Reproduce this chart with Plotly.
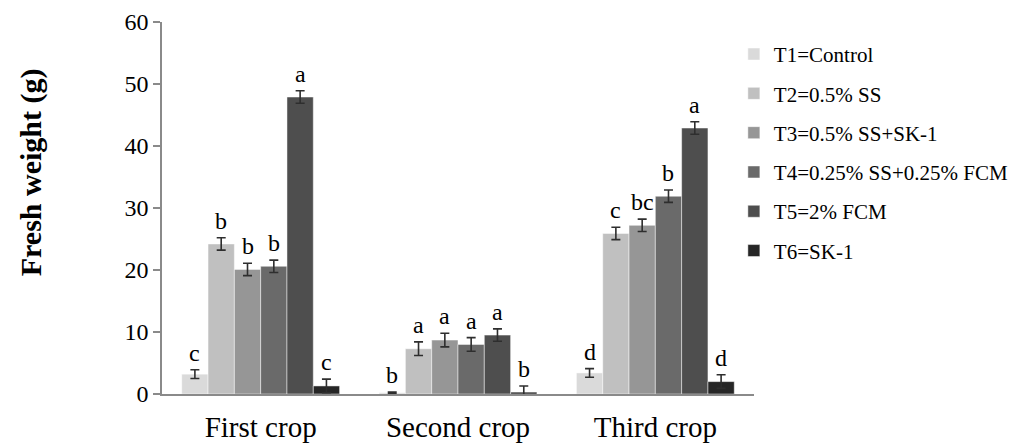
import plotly.graph_objects as go

categories = ["First crop", "Second crop", "Third crop"]
treatments = ["T1=Control", "T2=0.5% SS", "T3=0.5% SS+SK-1",
              "T4=0.25% SS+0.25% FCM", "T5=2% FCM", "T6=SK-1"]
colors = ["#dadada", "#c0c0c0", "#969696", "#6a6a6a", "#4e4e4e", "#262626"]

t1 = [3.2, 0.2, 3.4]
t2 = [24.2, 7.3, 25.9]
t3 = [20.1, 8.7, 27.2]
t4 = [20.6, 8.0, 31.9]
t5 = [47.9, 9.5, 42.9]
t6 = [1.3, 0.3, 2.0]

e1 = [0.7, 0.1, 0.7]
e2 = [1.0, 1.1, 1.0]
e3 = [1.0, 1.1, 1.0]
e4 = [1.0, 1.1, 1.0]
e5 = [1.0, 1.0, 1.0]
e6 = [1.1, 1.0, 1.1]

l1 = ["c", "b", "d"]
l2 = ["b", "a", "c"]
l3 = ["b", "a", "bc"]
l4 = ["b", "a", "b"]
l5 = ["a", "a", "a"]
l6 = ["c", "b", "d"]

values = [t1, t2, t3, t4, t5, t6]
errors = [e1, e2, e3, e4, e5, e6]
letters = [l1, l2, l3, l4, l5, l6]

FONT = "Liberation Serif"
bargap = 0.2
n = len(treatments)

fig = go.Figure()
for i in range(n):
    fig.add_trace(go.Bar(
        x=categories, y=values[i], name=treatments[i],
        marker=dict(color=colors[i], line=dict(color="rgba(255,255,255,0.6)", width=0.8)),
        error_y=dict(type="data", array=errors[i], visible=True,
                     color="#2e2e2e", thickness=1.6, width=4.5),
        legendgroup=str(i),
    ))

annotations = []
group_w = 1 - bargap
bw = group_w / n
for i in range(n):
    for j in range(len(categories)):
        xpos = j - group_w / 2 + (i + 0.5) * bw
        annotations.append(dict(
            x=xpos, y=values[i][j] + errors[i][j], xref="x", yref="y",
            text=letters[i][j], showarrow=False, yanchor="bottom", yshift=2,
            font=dict(family=FONT, size=24, color="#000000")))

annotations.append(dict(
    x=-0.222, y=0.595, xref="paper", yref="paper", text="<b>Fresh weight (g)</b>",
    textangle=-90, showarrow=False, xanchor="center", yanchor="middle",
    font=dict(family=FONT, size=30, color="#000000")))

fig.update_layout(
    width=1032, height=448,
    margin=dict(l=162, r=278, t=22, b=54, autoexpand=False),
    paper_bgcolor="white", plot_bgcolor="white",
    barmode="group", bargap=bargap, bargroupgap=0,
    showlegend=True,
    legend=dict(x=0.966, xanchor="left", y=0.968, yanchor="top",
                font=dict(family=FONT, size=21, color="#000000"),
                tracegroupgap=9, itemwidth=30),
    annotations=annotations,
    font=dict(family=FONT, color="#000000"),
)
fig.update_xaxes(
    showline=True, linecolor="#8a8a8a", linewidth=1.5,
    ticks="outside", ticklen=6, tickcolor="rgba(0,0,0,0)",
    tickfont=dict(family=FONT, size=29, color="#000000"),
    showgrid=False, zeroline=False, automargin=False,
)
fig.update_yaxes(
    range=[0, 60], dtick=10, showline=True, linecolor="#8a8a8a", linewidth=1.5,
    ticks="outside", ticklen=7, tickcolor="#8a8a8a", tickwidth=1.5,
    tickfont=dict(family=FONT, size=24, color="#000000"),
    showgrid=False, zeroline=False, automargin=False,
)

fig.write_html("out.html")
